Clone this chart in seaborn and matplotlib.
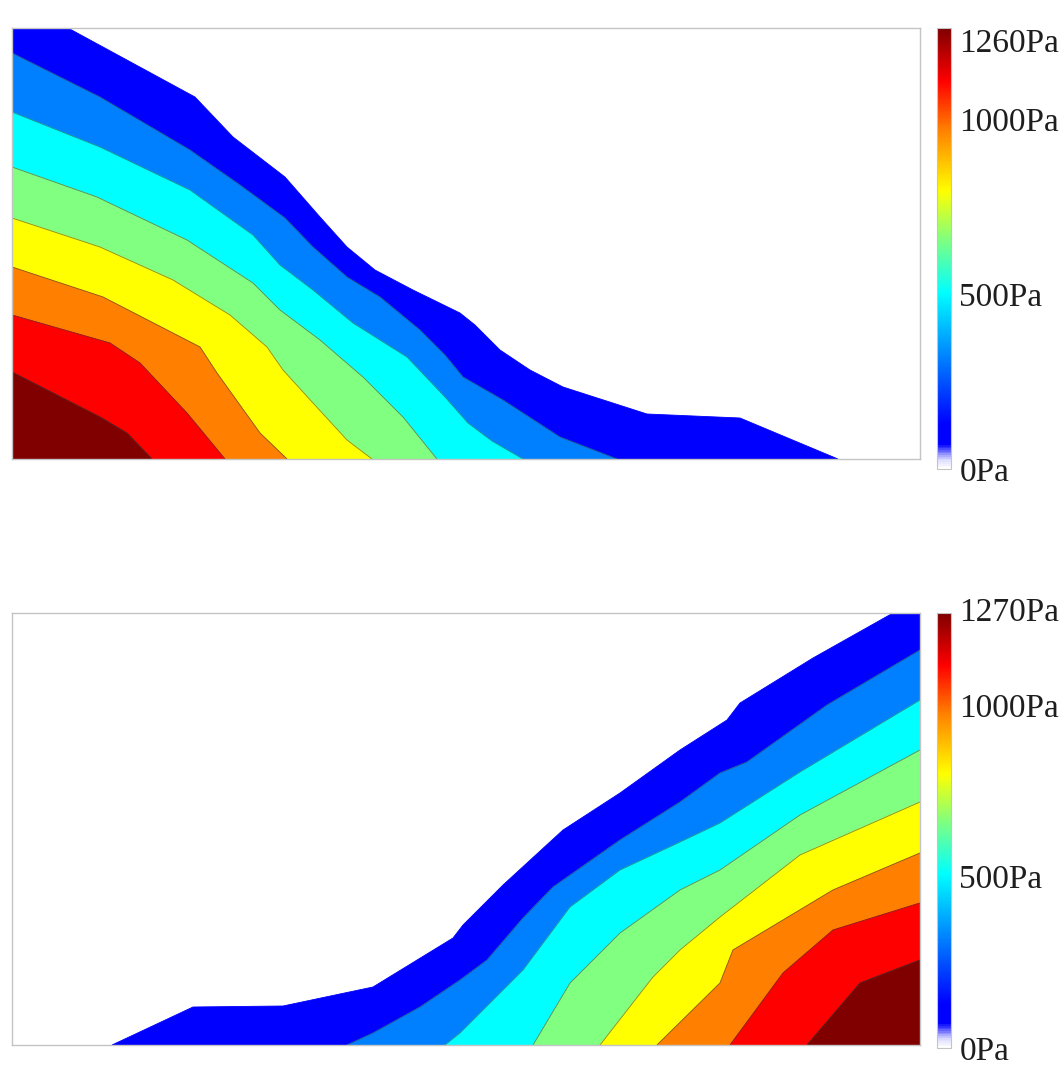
import matplotlib
matplotlib.use("Agg")
import matplotlib.pyplot as plt
import seaborn as sns
from matplotlib.colors import LinearSegmentedColormap, Normalize
from matplotlib.cm import ScalarMappable

sns.set_theme(style="white")
plt.rcParams["font.family"] = ["Liberation Serif", "DejaVu Serif"]

# ---------------- data: contour boundaries (distance units) ----------------
# Top panel: pressure bands, boundaries run from the left edge to the bottom edge
top_b0_x = [0, 56, 183, 221, 273, 308, 335, 363, 401, 448, 463, 488, 518, 551, 635, 728, 826]
top_b0_y = [431, 431, 362, 322, 282, 242, 212, 189, 169, 146, 134, 109, 89, 72, 45, 41, 0]
top_b1_x = [0, 88, 178, 228, 273, 301, 335, 368, 408, 433, 451, 491, 548, 605]
top_b1_y = [406, 362, 309, 274, 241, 212, 182, 162, 129, 104, 82, 59, 22, 0]
top_b2_x = [0, 88, 178, 241, 268, 301, 341, 395, 433, 456, 480, 511]
top_b2_y = [347, 312, 269, 224, 194, 169, 136, 102, 62, 36, 18, 0]
top_b3_x = [0, 85, 175, 241, 268, 308, 351, 391, 425]
top_b3_y = [292, 262, 219, 176, 149, 119, 82, 42, 0]
top_b4_x = [0, 88, 161, 218, 255, 271, 301, 335, 360]
top_b4_y = [241, 212, 179, 144, 112, 89, 56, 19, 0]
top_b5_x = [0, 91, 188, 205, 248, 275]
top_b5_y = [192, 162, 112, 86, 26, 0]
top_b6_x = [0, 98, 128, 175, 213]
top_b6_y = [144, 116, 96, 46, 0]
top_b7_x = [0, 41, 88, 115, 140]
top_b7_y = [87, 66, 42, 26, 0]

# Bottom panel: boundaries run from the bottom edge to the right edge
bot_b0_x = [100, 181, 271, 361, 441, 451, 491, 551, 608, 668, 715, 728, 801, 881, 908]
bot_b0_y = [0, 38, 39, 58, 107, 120, 160, 215, 252, 295, 325, 342, 387, 432, 432]
bot_b1_x = [335, 361, 408, 448, 475, 511, 541, 608, 668, 708, 735, 815, 908]
bot_b1_y = [0, 12, 38, 65, 85, 127, 158, 205, 243, 272, 283, 340, 395]
bot_b2_x = [433, 448, 511, 558, 608, 668, 708, 788, 908]
bot_b2_y = [0, 12, 75, 138, 175, 203, 222, 273, 345]
bot_b3_x = [521, 558, 608, 668, 708, 788, 908]
bot_b3_y = [0, 62, 112, 155, 175, 230, 295]
bot_b4_x = [588, 641, 668, 708, 788, 908]
bot_b4_y = [0, 68, 95, 128, 190, 243]
bot_b5_x = [645, 708, 721, 821, 908]
bot_b5_y = [0, 62, 95, 155, 192]
bot_b6_x = [718, 771, 821, 908]
bot_b6_y = [0, 72, 115, 142]
bot_b7_x = [795, 848, 908]
bot_b7_y = [0, 62, 85]

top_max_pa = 1260
bot_max_pa = 1270
top_ticks = [0, 500, 1000, 1260]
top_tick_labels = ["0Pa", "500Pa", "1000Pa", "1260Pa"]
bot_ticks = [0, 500, 1000, 1270]
bot_tick_labels = ["0Pa", "500Pa", "1000Pa", "1270Pa"]

# ---------------- styles ----------------
band_colors = ["#0000ff", "#0080ff", "#00ffff", "#80ff80",
               "#ffff00", "#ff8000", "#ff0000", "#800000"]
spine_color = "#c4c4c4"

cmap = LinearSegmentedColormap.from_list("pa", [
    (0.0, (1, 1, 1)), (0.02, (0.85, 0.85, 1.0)), (0.055, (0, 0, 1)),
    (0.10, (0, 0, 1)), (0.25, (0, 0.5, 1)), (0.40, (0, 1, 1)),
    (0.52, (0.5, 1, 0.5)), (0.63, (1, 1, 0)), (0.77, (1, 0.5, 0)),
    (0.88, (1, 0, 0)), (1.0, (0.5, 0, 0))])

W, H = 1064, 1066
fig = plt.figure(figsize=(W / 100, H / 100), dpi=100)


def fig_rect(x0, y0, x1, y1):
    return [x0 / W, 1 - y1 / H, (x1 - x0) / W, (y1 - y0) / H]


def draw_panel(ax, bounds, corner, xmax, ymax):
    n = len(bounds)
    for k in range(n):
        xk, yk = bounds[k]
        if k + 1 < n:
            xn, yn = bounds[k + 1]
            px = list(xk) + list(xn[::-1])
            py = list(yk) + list(yn[::-1])
        else:
            px = list(xk) + [corner[0]]
            py = list(yk) + [corner[1]]
        ax.fill(px, py, facecolor=band_colors[k], edgecolor=band_colors[k], lw=0.6)
    for k in range(1, n):
        sns.lineplot(x=bounds[k][0], y=bounds[k][1], sort=False, estimator=None,
                     ax=ax, color="#3a3a3a", lw=0.6, alpha=0.6)
    ax.set_xlim(0, xmax)
    ax.set_ylim(0, ymax)
    ax.set_xticks([])
    ax.set_yticks([])
    ax.set_xlabel("")
    ax.set_ylabel("")
    for s in ax.spines.values():
        s.set_color(spine_color)
        s.set_linewidth(1.0)
        s.set_visible(True)


def draw_cbar(cax, vmax, ticks, labels, top_va):
    sm = ScalarMappable(norm=Normalize(0, vmax), cmap=cmap)
    cb = fig.colorbar(sm, cax=cax, ticks=ticks)
    cb.set_ticklabels(labels)
    cax.tick_params(length=0, pad=6, labelsize=24, colors="#1e1e1e")
    cb.outline.set_edgecolor(spine_color)
    cb.outline.set_linewidth(0.8)
    tl = cax.get_yticklabels()
    tl[-1].set_va(top_va)


ax_top = fig.add_axes(fig_rect(12, 28, 920, 459))
draw_panel(ax_top,
           [(top_b0_x, top_b0_y), (top_b1_x, top_b1_y), (top_b2_x, top_b2_y),
            (top_b3_x, top_b3_y), (top_b4_x, top_b4_y), (top_b5_x, top_b5_y),
            (top_b6_x, top_b6_y), (top_b7_x, top_b7_y)],
           (0, 0), 908, 431)

ax_bot = fig.add_axes(fig_rect(12, 613, 920, 1045))
draw_panel(ax_bot,
           [(bot_b0_x, bot_b0_y), (bot_b1_x, bot_b1_y), (bot_b2_x, bot_b2_y),
            (bot_b3_x, bot_b3_y), (bot_b4_x, bot_b4_y), (bot_b5_x, bot_b5_y),
            (bot_b6_x, bot_b6_y), (bot_b7_x, bot_b7_y)],
           (908, 0), 908, 432)

cax_top = fig.add_axes(fig_rect(937, 28, 951, 469))
draw_cbar(cax_top, top_max_pa, top_ticks, top_tick_labels, "top")

cax_bot = fig.add_axes(fig_rect(937, 613, 951, 1048))
draw_cbar(cax_bot, bot_max_pa, bot_ticks, bot_tick_labels, "center")

fig.savefig("out.png", dpi=100, facecolor="white")
